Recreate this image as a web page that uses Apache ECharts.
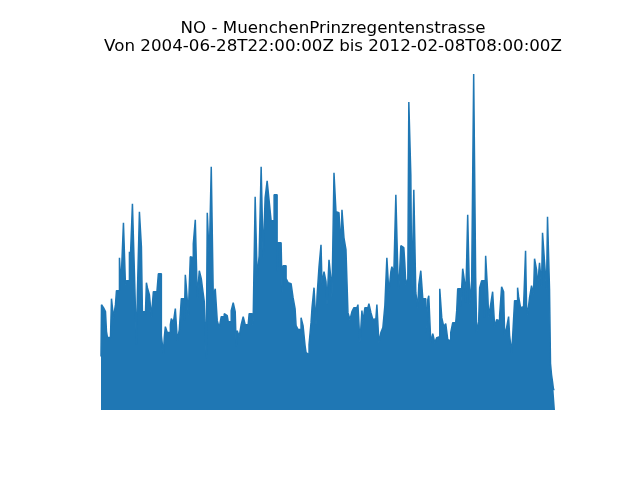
<!DOCTYPE html>
<html>
<head>
<meta charset="utf-8">
<script src="https://cdn.jsdelivr.net/npm/echarts@6/dist/echarts.min.js"></script>
<style>html,body{margin:0;padding:0;background:#fff}#c{width:640px;height:480px}</style>
</head>
<body>
<div id="c"></div>
<script>
const titleLine1 = 'NO - MuenchenPrinzregentenstrasse';
const titleLine2 = 'Von 2004-06-28T22:00:00Z bis 2012-02-08T08:00:00Z';

// Envelope (peak) of NO concentration, one value per time step across the record
const peaks = [
107,211,211,205,205,197,157,145,145,145,
145,223,223,185,185,211,239,239,239,305,
267,275,275,375,375,251,259,259,259,317,
307,307,413,413,275,275,131,237,237,397,
397,327,197,197,197,191,255,245,245,231,
231,187,187,237,237,237,223,223,273,273,
273,149,149,113,147,167,167,155,155,155,
171,183,183,175,175,203,203,139,139,161,
161,223,223,223,179,271,247,247,191,191,
307,307,305,333,333,381,381,225,225,279,
279,263,247,247,217,217,103,395,395,303,
303,487,487,229,229,243,243,179,179,165,
165,187,187,187,193,193,189,189,177,177,
177,199,199,215,215,197,127,159,159,147,
147,171,171,187,187,171,171,171,171,193,
193,193,171,179,179,427,427,265,265,309,
309,487,487,307,307,425,425,459,459,419,
419,379,379,379,431,431,431,277,335,335,
335,335,237,289,289,289,263,263,255,255,
253,253,253,225,225,203,169,169,161,161,
161,185,185,169,169,129,115,115,111,131,
131,175,205,205,245,245,171,227,227,287,
287,331,251,251,277,277,257,211,211,301,
301,261,227,227,475,475,397,397,395,391,
391,327,401,401,345,345,321,321,195,195,
181,181,197,197,205,205,205,205,211,211,
135,135,199,177,177,205,205,205,207,213,
213,195,195,181,181,183,183,211,211,135,
135,155,155,165,165,209,209,305,305,235,
235,277,287,287,275,275,431,431,275,243,
243,329,329,325,325,293,251,251,263,617,
617,471,225,225,441,441,235,235,205,251,
251,279,279,223,223,223,155,155,221,229,
229,135,135,153,153,135,135,145,147,147,
243,243,185,185,167,167,173,173,141,139,
139,155,155,175,175,175,175,199,243,243,
243,207,207,283,283,255,215,215,391,391,
213,213,259,259,673,673,265,155,155,177,
245,245,259,259,259,185,309,309,237,187,
187,211,211,237,237,167,167,181,181,179,
189,189,247,247,237,151,151,165,165,187,
149,149,115,145,145,219,219,219,245,227,
227,205,205,207,209,209,319,207,191,191,
225,225,249,249,233,303,303,281,247,247,
295,295,249,355,355,297,297,243,387,387,
243,93,71,57,41,41
];
const steps = peaks.map((_, i) => i);

const chart = echarts.init(document.getElementById('c'), null, {renderer: 'canvas'});
chart.setOption({
  animation: false,
  backgroundColor: '#ffffff',
  title: {
    text: titleLine1 + '\n' + titleLine2,
    left: 328,
    top: 15,
    textAlign: 'center',
    textStyle: {fontFamily: 'DejaVu Sans', fontSize: 16.7, fontWeight: 'normal', color: '#000', lineHeight: 17.5}
  },
  grid: {left: 101, right: 85, top: 74, bottom: 70},
  xAxis: {type: 'category', data: steps, boundaryGap: false, show: false},
  yAxis: {type: 'value', min: 0, max: 'dataMax', show: false},
  series: [{
    type: 'line',
    data: peaks,
    step: 'middle',
    symbol: 'none',
    lineStyle: {color: '#1f77b4', width: 1.5},
    areaStyle: {color: '#1f77b4', opacity: 1},
    itemStyle: {color: '#1f77b4'}
  }]
});
</script>
</body>
</html>
